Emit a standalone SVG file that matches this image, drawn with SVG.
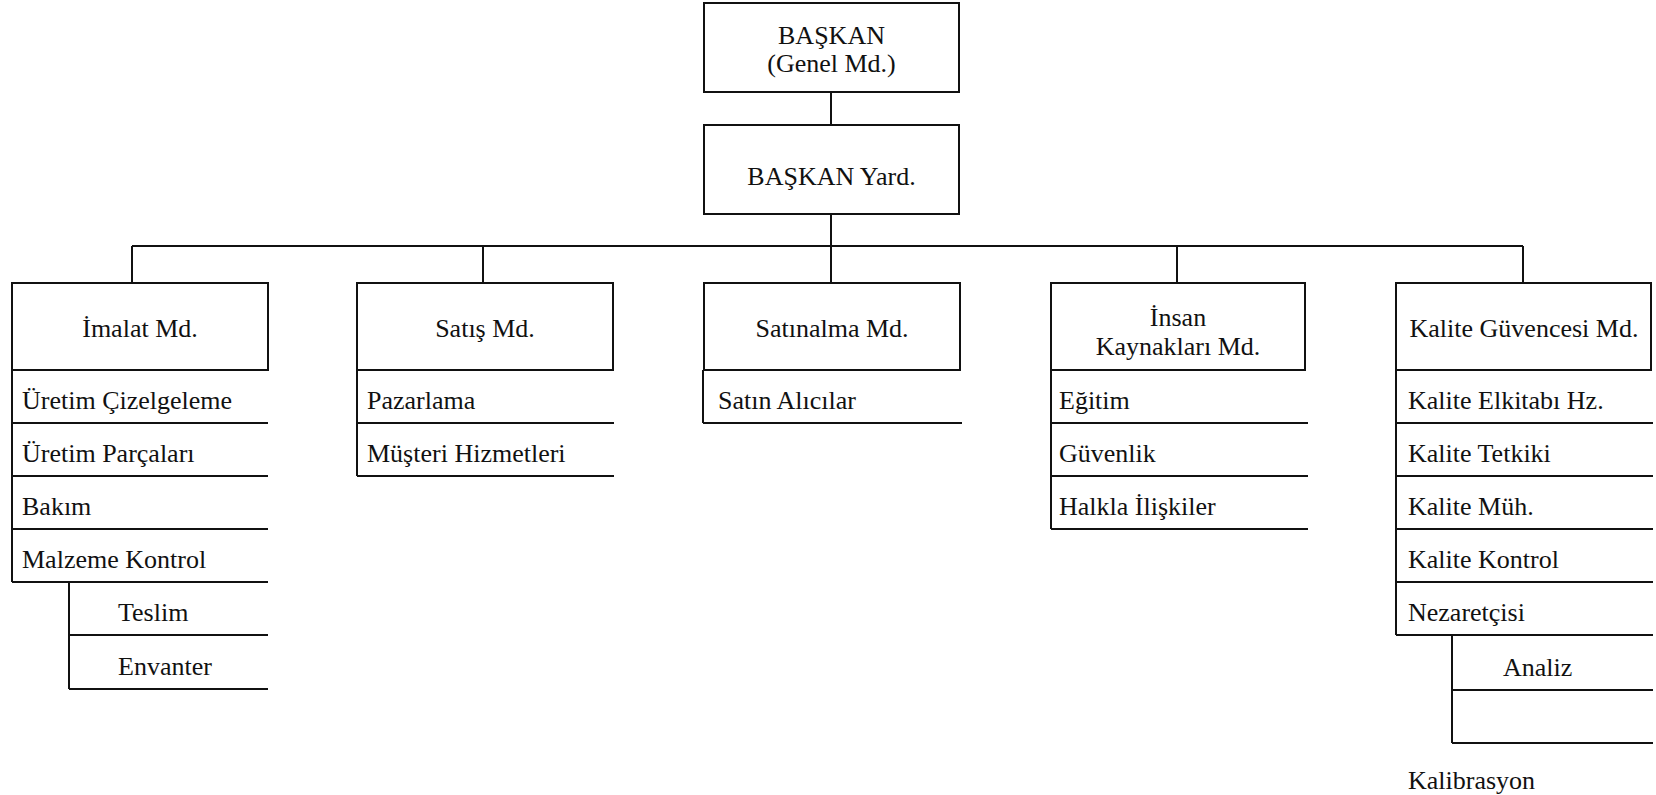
<svg xmlns="http://www.w3.org/2000/svg" width="1656" height="795" viewBox="0 0 1656 795">
  <style>
    .box { fill: #fff; stroke: #111; stroke-width: 2; }
    .ln { fill: none; stroke: #111; stroke-width: 2; }
    text { font-family: "Liberation Serif", "Times New Roman", serif; font-size: 26px; fill: #111; }
    .c { text-anchor: middle; }
  </style>
  <rect width="1656" height="795" fill="#fff"/>

  <!-- connectors -->
  <g id="connectors">
    <path class="ln" d="M831,92 V125"/>
    <path class="ln" d="M831,214 V246"/>
    <path class="ln" d="M132,246 H1523"/>
    <path class="ln" d="M132,246 V283 M483,246 V283 M831,246 V283 M1177,246 V283 M1523,246 V283"/>
  </g>

  <g id="baskan">
    <rect class="box" x="704" y="3" width="255" height="89"/>
    <text class="c" x="831.5" y="44">BAŞKAN</text>
    <text class="c" x="831.5" y="72">(Genel Md.)</text>
  </g>

  <g id="baskan-yard">
    <rect class="box" x="704" y="125" width="255" height="89"/>
    <text class="c" x="831.5" y="185">BAŞKAN Yard.</text>
  </g>

  <!-- İmalat -->
  <g id="imalat">
    <rect class="box" x="12" y="283" width="256" height="87"/>
    <text class="c" x="140" y="337">İmalat Md.</text>
    <path class="ln" d="M12,370 V582 M12,423 H268 M12,476 H268 M12,529 H268 M12,582 H268"/>
    <path class="ln" d="M69,582 V689 M69,635 H268 M69,689 H268"/>
    <text x="22" y="409">Üretim Çizelgeleme</text>
    <text x="22" y="462">Üretim Parçaları</text>
    <text x="22" y="515">Bakım</text>
    <text x="22" y="568">Malzeme Kontrol</text>
    <text x="118" y="621">Teslim</text>
    <text x="118" y="675">Envanter</text>
  </g>

  <!-- Satış -->
  <g id="satis">
    <rect class="box" x="357" y="283" width="256" height="87"/>
    <text class="c" x="485" y="337">Satış Md.</text>
    <path class="ln" d="M357,370 V476 M357,423 H614 M357,476 H614"/>
    <text x="367" y="409">Pazarlama</text>
    <text x="367" y="462">Müşteri Hizmetleri</text>
  </g>

  <!-- Satınalma -->
  <g id="satinalma">
    <rect class="box" x="704" y="283" width="256" height="87"/>
    <text class="c" x="832" y="337">Satınalma Md.</text>
    <path class="ln" d="M703,370 V423 M703,423 H962"/>
    <text x="718" y="409">Satın Alıcılar</text>
  </g>

  <!-- İnsan Kaynakları -->
  <g id="insan-kaynaklari">
    <rect class="box" x="1051" y="283" width="254" height="87"/>
    <text class="c" x="1178" y="326">İnsan</text>
    <text class="c" x="1178" y="355">Kaynakları Md.</text>
    <path class="ln" d="M1051,370 V529 M1051,423 H1308 M1051,476 H1308 M1051,529 H1308"/>
    <text x="1059" y="409">Eğitim</text>
    <text x="1059" y="462">Güvenlik</text>
    <text x="1059" y="515">Halkla İlişkiler</text>
  </g>

  <!-- Kalite Güvencesi -->
  <g id="kalite">
    <rect class="box" x="1396" y="283" width="255" height="87"/>
    <text class="c" x="1524" y="337">Kalite Güvencesi Md.</text>
    <path class="ln" d="M1396,370 V635 M1396,423 H1653 M1396,476 H1653 M1396,529 H1653 M1396,582 H1653 M1396,635 H1653"/>
    <path class="ln" d="M1452,635 V743 M1452,690 H1653 M1452,743 H1653"/>
    <text x="1408" y="409">Kalite Elkitabı Hz.</text>
    <text x="1408" y="462">Kalite Tetkiki</text>
    <text x="1408" y="515">Kalite Müh.</text>
    <text x="1408" y="568">Kalite Kontrol</text>
    <text x="1408" y="621">Nezaretçisi</text>
    <text x="1503" y="676">Analiz</text>
    <text x="1408" y="789">Kalibrasyon</text>
  </g>
</svg>
